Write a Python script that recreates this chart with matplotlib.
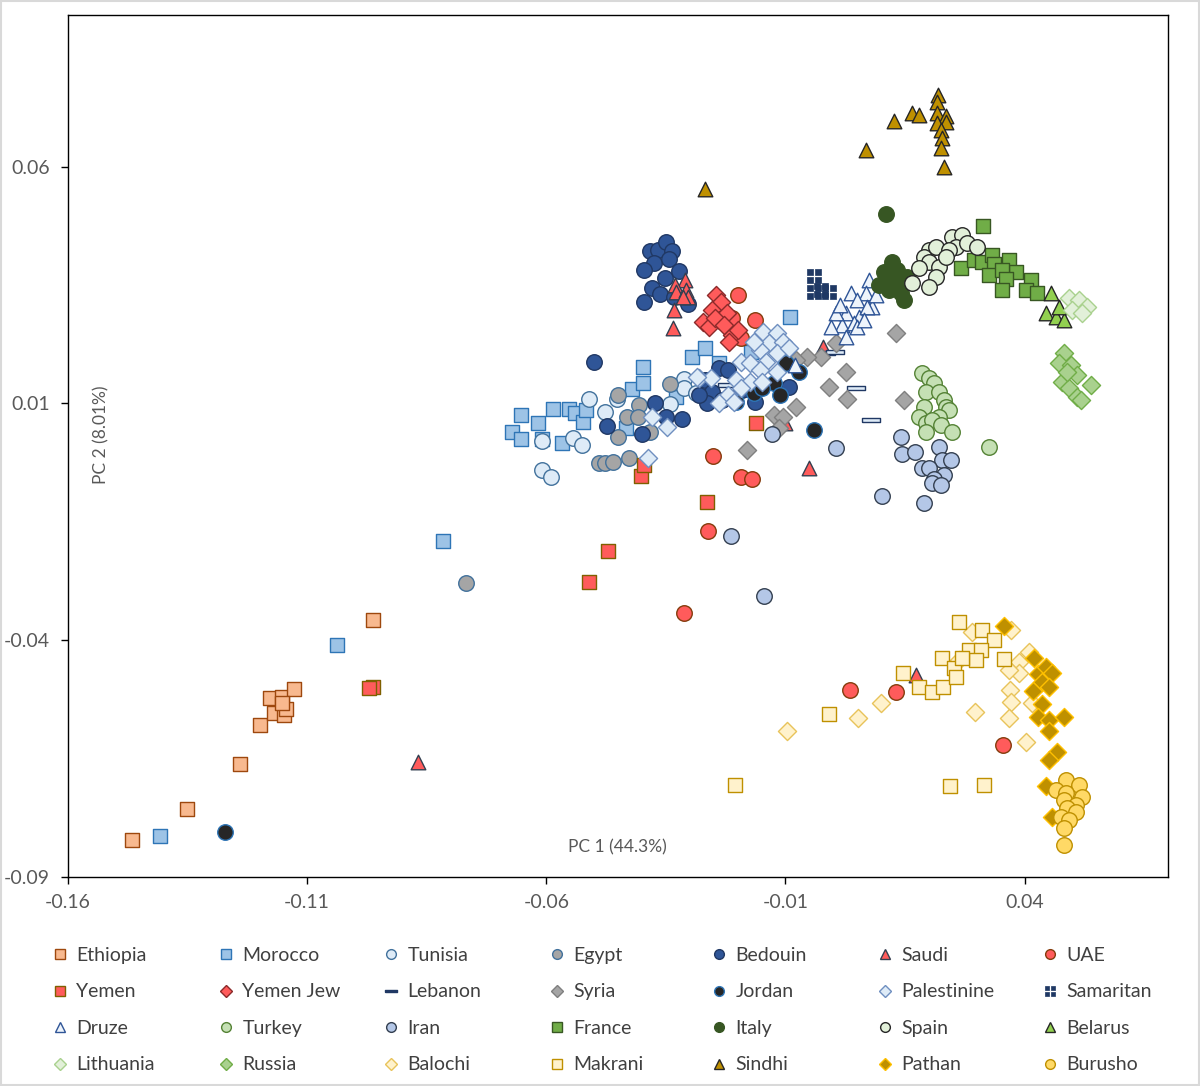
import matplotlib.pyplot as plt
from matplotlib.lines import Line2D
from matplotlib.patches import Rectangle
from matplotlib.path import Path

plt.rcParams['font.family'] = ['Lato', 'DejaVu Sans']

# PCA coordinates
ethiopia_x = [-0.1466, -0.1351, -0.1240, -0.1198, -0.1177, -0.1152, -0.1127, -0.1169, -0.1148, -0.1144, -0.1152, -0.0962]
ethiopia_y = [-0.0822, -0.0756, -0.0661, -0.0579, -0.0522, -0.0520, -0.0503, -0.0553, -0.0558, -0.0545, -0.0532, -0.0357]

morocco_x = [-0.1407, -0.1038, -0.0816, -0.0653, -0.0672, -0.0653, -0.0618, -0.0585, -0.0553, -0.0539, -0.0524, -0.0518,
             -0.0568, -0.0610, -0.0434, -0.0420, -0.0397, -0.0397, -0.0328, -0.0296, -0.0269, -0.0238, -0.0171, -0.0090]
morocco_y = [-0.0813, -0.0410, -0.0190, 0.0076, 0.0040, 0.0025, 0.0059, 0.0089, 0.0089, 0.0080, 0.0061, 0.0087,
             0.0017, 0.0025, 0.0049, 0.0131, 0.0144, 0.0177, 0.0114, 0.0199, 0.0218, 0.0186, 0.0209, 0.0283]

tunisia_x = [-0.0511, -0.0478, -0.0610, -0.0545, -0.0526, -0.0608, -0.0591, -0.0342, -0.0313, -0.0313, -0.0286, -0.0453, -0.0263]
tunisia_y = [0.0110, 0.0082, 0.0021, 0.0027, 0.0013, -0.0040, -0.0055, 0.0099, 0.0152, 0.0133, 0.0123, 0.0110, 0.0150]

egypt_x = [-0.0451, -0.0432, -0.0407, -0.0409, -0.0451, -0.0489, -0.0478, -0.0461, -0.0428, -0.0342, -0.0384, -0.0768]
egypt_y = [0.0118, 0.0072, 0.0097, 0.0072, 0.0030, -0.0025, -0.0025, -0.0023, -0.0015, 0.0142, 0.0040, -0.0279]

bedouin_x = [-0.0384, -0.0367, -0.0349, -0.0338, -0.0374, -0.0344, -0.0395, -0.0351, -0.0322, -0.0378, -0.0363, -0.0395,
             -0.0332, -0.0303, -0.0501, -0.0474, -0.0399, -0.0372, -0.0349, -0.0317, -0.0238, -0.0221, -0.0269, -0.0253,
             -0.0265, -0.0232, -0.0190, -0.0163, -0.0092, -0.0207, -0.0280]
bedouin_y = [0.0422, 0.0425, 0.0441, 0.0422, 0.0397, 0.0406, 0.0382, 0.0365, 0.0380, 0.0344, 0.0332, 0.0315,
             0.0325, 0.0311, 0.0188, 0.0053, 0.0036, 0.0101, 0.0072, 0.0068, 0.0175, 0.0171, 0.0150, 0.0125,
             0.0101, 0.0108, 0.0129, 0.0104, 0.0135, 0.0112, 0.0118]

saudi_x = [-0.0311, -0.0330, -0.0328, -0.0307, -0.0303, -0.0315, -0.0332, -0.0336, -0.0050, -0.0868, 0.0173, -0.0021, -0.0100]
saudi_y = [0.0361, 0.0351, 0.0336, 0.0340, 0.0325, 0.0325, 0.0298, 0.0260, -0.0036, -0.0657, -0.0473, 0.0220, 0.0059]

uae_x = [-0.0200, -0.0163, -0.0211, -0.0192, -0.0251, -0.0192, -0.0169, -0.0261, -0.0313, 0.0035, 0.0132, 0.0355]
uae_y = [0.0330, 0.0277, 0.0281, 0.0239, -0.0011, -0.0055, -0.0059, -0.0169, -0.0342, -0.0505, -0.0509, -0.0621]

yemen_x = [-0.0161, -0.0401, -0.0395, -0.0263, -0.0472, -0.0511, -0.0962, -0.0971]
yemen_y = [0.0059, -0.0053, -0.0030, -0.0108, -0.0211, -0.0277, -0.0499, -0.0501]

yemen_jew_x = [-0.0246, -0.0234, -0.0253, -0.0273, -0.0259, -0.0238, -0.0223, -0.0211, -0.0200, -0.0217, -0.0248, -0.0228]
yemen_jew_y = [0.0330, 0.0315, 0.0298, 0.0272, 0.0262, 0.0277, 0.0292, 0.0245, 0.0256, 0.0230, 0.0281, 0.0266]

lebanon_x = [-0.0015, 0.0004, 0.0048, 0.0079, -0.0223]
lebanon_y = [0.0207, 0.0209, 0.0133, 0.0065, 0.0139]

syria_x = [0.0132, 0.0006, -0.0025, -0.0054, -0.0077, 0.0027, -0.0008, 0.0029, 0.0148, -0.0077, -0.0123, -0.0106, -0.0180, -0.0113]
syria_y = [0.0249, 0.0228, 0.0199, 0.0199, 0.0192, 0.0167, 0.0135, 0.0110, 0.0108, 0.0093, 0.0076, 0.0072, 0.0002, 0.0049]

jordan_x = [-0.0165, -0.0123, -0.0111, -0.0098, -0.0071, -0.0040, -0.0203, -0.0150, -0.1271]
jordan_y = [0.0123, 0.0144, 0.0118, 0.0186, 0.0167, 0.0044, 0.0104, 0.0133, -0.0805]

palestinine_x = [-0.0148, -0.0117, -0.0134, -0.0106, -0.0154, -0.0117, -0.0140, -0.0192, -0.0175, -0.0154, -0.0117, -0.0280,
                 -0.0255, -0.0203, -0.0175, -0.0150, -0.0221, -0.0192, -0.0238, -0.0207, -0.0378, -0.0347, -0.0284, -0.0388,
                 -0.0092, -0.0165]
palestinine_y = [0.0251, 0.0249, 0.0228, 0.0230, 0.0213, 0.0207, 0.0188, 0.0188, 0.0186, 0.0171, 0.0167, 0.0154,
                 0.0154, 0.0150, 0.0146, 0.0146, 0.0118, 0.0133, 0.0101, 0.0104, 0.0072, 0.0051, 0.0156, -0.0015,
                 0.0218, 0.0230]

samaritan_x = [-0.0040, -0.0040, -0.0010, -0.0025]
samaritan_y = [0.0370, 0.0336, 0.0336, 0.0340]

druze_x = [0.0075, 0.0069, 0.0038, 0.0050, 0.0081, 0.0027, 0.0054, 0.0019, 0.0044, 0.0027, 0.0006, -0.0004,
           0.0050, 0.0071, 0.0090, 0.0065, -0.0081, 0.0013]
druze_y = [0.0361, 0.0334, 0.0334, 0.0319, 0.0304, 0.0292, 0.0283, 0.0266, 0.0270, 0.0241, 0.0292, 0.0262,
           0.0262, 0.0304, 0.0330, 0.0277, 0.0182, 0.0308]

turkey_x = [0.0186, 0.0200, 0.0211, 0.0194, 0.0221, 0.0232, 0.0190, 0.0236, 0.0242, 0.0180, 0.0221, 0.0194,
            0.0207, 0.0225, 0.0194, 0.0248, 0.0326]
turkey_y = [0.0165, 0.0154, 0.0144, 0.0125, 0.0125, 0.0108, 0.0093, 0.0093, 0.0087, 0.0072, 0.0072, 0.0059,
            0.0065, 0.0055, 0.0040, 0.0040, 0.0008]

iran_x = [0.0142, 0.0144, 0.0171, 0.0221, 0.0228, 0.0246, 0.0186, 0.0200, 0.0232, 0.0211, 0.0207, 0.0225,
          0.0102, 0.0190, -0.0129, 0.0006, -0.0144, -0.0213]
iran_y = [0.0030, -0.0006, -0.0002, 0.0008, -0.0019, -0.0019, -0.0036, -0.0036, -0.0051, -0.0059, -0.0068, -0.0072,
          -0.0095, -0.0110, 0.0036, 0.0006, -0.0306, -0.0180]

france_x = [0.0313, 0.0267, 0.0294, 0.0311, 0.0332, 0.0336, 0.0367, 0.0382, 0.0326, 0.0353, 0.0361, 0.0353,
            0.0413, 0.0403, 0.0426]
france_y = [0.0475, 0.0387, 0.0403, 0.0399, 0.0414, 0.0395, 0.0403, 0.0378, 0.0372, 0.0382, 0.0363, 0.0340,
            0.0361, 0.0340, 0.0334]

italy_x = [0.0111, 0.0123, 0.0106, 0.0134, 0.0111, 0.0138, 0.0154, 0.0117, 0.0142, 0.0148, 0.0096]
italy_y = [0.0499, 0.0399, 0.0378, 0.0382, 0.0361, 0.0361, 0.0368, 0.0340, 0.0334, 0.0319, 0.0351]

spain_x = [0.0200, 0.0190, 0.0215, 0.0248, 0.0269, 0.0257, 0.0280, 0.0301, 0.0242, 0.0200, 0.0221, 0.0180,
           0.0215, 0.0165, 0.0200, 0.0236]
spain_y = [0.0425, 0.0410, 0.0431, 0.0452, 0.0456, 0.0431, 0.0439, 0.0431, 0.0425, 0.0399, 0.0389, 0.0387,
           0.0368, 0.0355, 0.0346, 0.0410]

belarus_x = [0.0455, 0.0445, 0.0466, 0.0482, 0.0472]
belarus_y = [0.0334, 0.0292, 0.0283, 0.0277, 0.0304]

lithuania_x = [0.0493, 0.0514, 0.0530, 0.0499, 0.0520]
lithuania_y = [0.0323, 0.0319, 0.0304, 0.0298, 0.0292]

russia_x = [0.0482, 0.0472, 0.0497, 0.0478, 0.0509, 0.0493, 0.0539, 0.0509, 0.0518, 0.0489]
russia_y = [0.0207, 0.0186, 0.0182, 0.0146, 0.0161, 0.0133, 0.0139, 0.0114, 0.0108, 0.0167]

balochi_x = [-0.0096, 0.0052, 0.0100, 0.0296, 0.0370, 0.0372, 0.0367, 0.0403, 0.0415, 0.0388, 0.0388, 0.0367,
             0.0409, 0.0290, 0.0372, 0.0263]
balochi_y = [-0.0591, -0.0564, -0.0532, -0.0551, -0.0505, -0.0530, -0.0564, -0.0615, -0.0532, -0.0446, -0.0469, -0.0463,
             -0.0425, -0.0382, -0.0378, -0.0441]

makrani_x = [0.0263, 0.0311, 0.0336, 0.0228, 0.0284, 0.0309, 0.0299, 0.0253, 0.0269, 0.0357, 0.0146, 0.0180,
             0.0207, 0.0230, 0.0257, 0.0244, 0.0315, -0.0010, -0.0205]
makrani_y = [-0.0361, -0.0378, -0.0399, -0.0437, -0.0420, -0.0420, -0.0441, -0.0458, -0.0437, -0.0439, -0.0469, -0.0499,
             -0.0509, -0.0499, -0.0477, -0.0708, -0.0706, -0.0556, -0.0706]

sindhi_x = [0.0219, 0.0217, 0.0217, 0.0236, 0.0217, 0.0236, 0.0225, 0.0228, 0.0225, 0.0232, 0.0127, 0.0165,
            0.0180, 0.0069, -0.0269]
sindhi_y = [0.0752, 0.0737, 0.0714, 0.0706, 0.0693, 0.0695, 0.0678, 0.0661, 0.0640, 0.0600, 0.0697, 0.0714,
            0.0710, 0.0636, 0.0553]

pathan_x = [0.0357, 0.0420, 0.0428, 0.0445, 0.0457, 0.0436, 0.0418, 0.0451, 0.0436, 0.0428, 0.0451, 0.0482,
            0.0451, 0.0468, 0.0451, 0.0445, 0.0457]
pathan_y = [-0.0370, -0.0437, -0.0471, -0.0456, -0.0469, -0.0488, -0.0507, -0.0499, -0.0534, -0.0562, -0.0568, -0.0562,
            -0.0591, -0.0636, -0.0653, -0.0708, -0.0773]

burusho_x = [0.0486, 0.0514, 0.0466, 0.0486, 0.0520, 0.0482, 0.0507, 0.0489, 0.0507, 0.0476, 0.0493, 0.0482, 0.0482]
burusho_y = [-0.0695, -0.0706, -0.0716, -0.0722, -0.0731, -0.0737, -0.0748, -0.0754, -0.0763, -0.0773, -0.0779, -0.0796,
             -0.0832]

x_ticks = [-0.16, -0.11, -0.06, -0.01, 0.04]
y_ticks = [0.06, 0.01, -0.04, -0.09]

# custom markers: flat bar (Lebanon) and a square split in four (Samaritan)
flat_bar = [(-1, -0.2), (1, -0.2), (1, 0.2), (-1, 0.2), (-1, -0.2)]


def quad(x0, y0, w):
    return [(x0, y0), (x0 + w, y0), (x0 + w, y0 + w), (x0, y0 + w), (x0, y0)]


grid_verts = quad(-1, -1, 0.82) + quad(0.18, -1, 0.82) + quad(-1, 0.18, 0.82) + quad(0.18, 0.18, 0.82)
grid_codes = [Path.MOVETO, Path.LINETO, Path.LINETO, Path.LINETO, Path.CLOSEPOLY] * 4
grid_square = Path(grid_verts, grid_codes)

# label, x, y, marker, size, face, edge
groups = [
    ('Ethiopia', ethiopia_x, ethiopia_y, 's', 100, '#F8B98F', '#9E480E'),
    ('Morocco', morocco_x, morocco_y, 's', 100, '#9DC3E6', '#2E75B6'),
    ('Tunisia', tunisia_x, tunisia_y, 'o', 125, '#DEEBF7', '#41719C'),
    ('Egypt', egypt_x, egypt_y, 'o', 125, '#A5A5A5', '#41719C'),
    ('Bedouin', bedouin_x, bedouin_y, 'o', 125, '#2F5597', '#203864'),
    ('Saudi', saudi_x, saudi_y, '^', 110, '#FF5B5B', '#333F50'),
    ('UAE', uae_x, uae_y, 'o', 125, '#FF5B5B', '#843C0C'),
    ('Yemen', yemen_x, yemen_y, 's', 100, '#FF5B5B', '#7F6000'),
    ('Yemen Jew', yemen_jew_x, yemen_jew_y, 'D', 85, '#FF5B5B', '#8B2A2A'),
    ('Lebanon', lebanon_x, lebanon_y, flat_bar, 150, '#DEEBF7', '#203864'),
    ('Syria', syria_x, syria_y, 'D', 85, '#A5A5A5', '#7F7F7F'),
    ('Jordan', jordan_x, jordan_y, 'o', 125, '#262626', '#2E75B6'),
    ('Palestinine', palestinine_x, palestinine_y, 'D', 85, '#DEEBF7', '#6F8FC0'),
    ('Samaritan', samaritan_x, samaritan_y, grid_square, 110, '#1F3864', '#1F3864'),
    ('Druze', druze_x, druze_y, '^', 110, '#EEF4FB', '#2F5597'),
    ('Turkey', turkey_x, turkey_y, 'o', 125, '#C5E0B4', '#548235'),
    ('Iran', iran_x, iran_y, 'o', 125, '#B4C7E7', '#333F50'),
    ('France', france_x, france_y, 's', 100, '#70AD47', '#385723'),
    ('Italy', italy_x, italy_y, 'o', 125, '#375623', '#375623'),
    ('Spain', spain_x, spain_y, 'o', 125, '#E2F0D9', '#262626'),
    ('Belarus', belarus_x, belarus_y, '^', 110, '#92D050', '#262626'),
    ('Lithuania', lithuania_x, lithuania_y, 'D', 85, '#E2F0D9', '#A9D18E'),
    ('Russia', russia_x, russia_y, 'D', 85, '#A9D18E', '#70AD47'),
    ('Balochi', balochi_x, balochi_y, 'D', 85, '#FFF2CC', '#E8C35A'),
    ('Makrani', makrani_x, makrani_y, 's', 100, '#FFF2CC', '#BF9000'),
    ('Sindhi', sindhi_x, sindhi_y, '^', 110, '#BF9000', '#262626'),
    ('Pathan', pathan_x, pathan_y, 'D', 85, '#BF9000', '#FFC000'),
    ('Burusho', burusho_x, burusho_y, 'o', 125, '#FFD966', '#BF9000'),
]

fig = plt.figure(figsize=(12, 10.86), dpi=100)
fig.patches.append(Rectangle((0.001, 0.001), 0.998, 0.998, transform=fig.transFigure,
                             fill=False, edgecolor='#D9D9D9', linewidth=1.5))
ax = fig.add_axes([0.0567, 0.1924, 0.9167, 0.7937])

handles = []
for i, (label, xs, ys, marker, size, face, edge) in enumerate(groups):
    lw = 0.5 if label == 'Samaritan' else 1
    ax.scatter(xs, ys, marker=marker, s=size, c=face, edgecolors=edge, linewidths=lw, zorder=2 + i * 0.01)
    leg_face = '#203864' if label == 'Lebanon' else face
    ms = 9 if label == 'Lebanon' else (6.2 if marker == 'D' else 7)
    h = Line2D([], [], linestyle='none', marker=marker, markersize=ms,
               markerfacecolor=leg_face, markeredgecolor=edge, markeredgewidth=lw)
    handles.append(h)

ax.set_xlim(-0.16, 0.07)
ax.set_ylim(-0.09, 0.092)
ax.set_xticks(x_ticks)
ax.set_xticklabels([f'{v:.2f}' for v in x_ticks])
ax.set_yticks(y_ticks)
ax.set_yticklabels([f'{v:.2f}' for v in y_ticks])
ax.tick_params(direction='out', length=5, width=1, colors='black', labelcolor='#595959', labelsize=14)
ax.tick_params(axis='y', pad=8)
ax.tick_params(axis='x', pad=7)
for sp in ax.spines.values():
    sp.set_linewidth(1)
    sp.set_color('black')

ax.text(0.499, 0.034, 'PC 1 (44.3%)', transform=ax.transAxes, ha='center', va='center',
        fontsize=12.5, color='#595959')
ax.text(0.03, 0.513, 'PC 2 (8.01%)', transform=ax.transAxes, ha='center', va='center',
        rotation=90, fontsize=12.5, color='#595959')

# legend: 7 columns, 4 rows, filled row by row
labels = [g[0] for g in groups]
col_x = [52, 218, 383, 549, 711, 877, 1042]
for c in range(7):
    fig.legend([handles[r * 7 + c] for r in range(4)], [labels[r * 7 + c] for r in range(4)],
               loc='upper left', bbox_to_anchor=(col_x[c] / 1200, 1 - 947 / 1086),
               frameon=False, fontsize=14, labelcolor='#404040', handlelength=0.8,
               handletextpad=0.45, borderpad=0, borderaxespad=0, labelspacing=1.0)

fig.savefig('out.png', dpi=100)
